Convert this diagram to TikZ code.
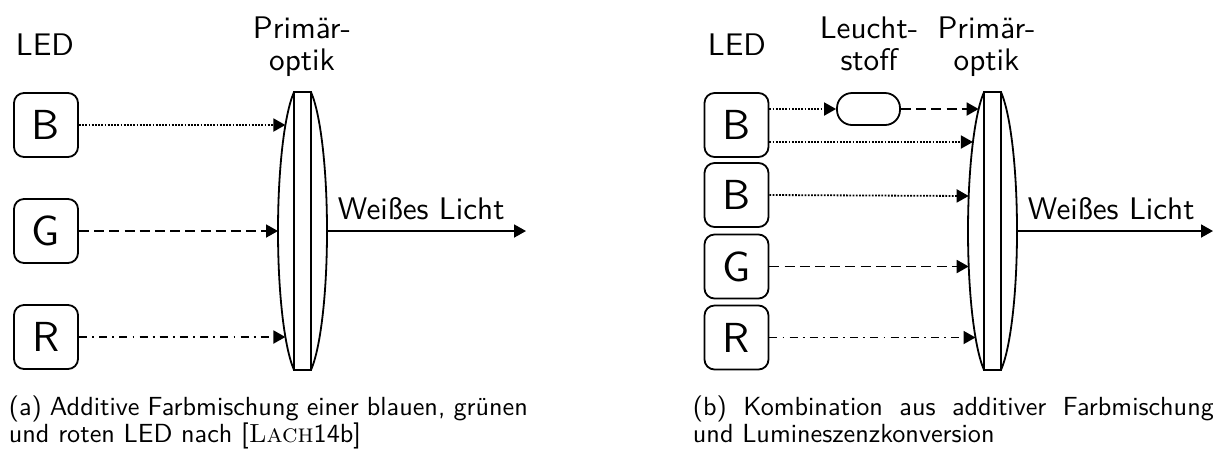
\documentclass[tikz,border=0pt]{standalone}
\usepackage{fontspec}
\setsansfont{lmsans10-regular.otf}
\usetikzlibrary{arrows.meta,calc}
% lens: ellipse clipped to the node box, with a narrow vertical strip in the middle
\newcommand\drawlens[1]{%
  \begin{scope}
    \clip ($(#1.north west)+(-6,0)$) rectangle ($(#1.south east)+(6,0)$);
    \draw (#1.center) ellipse [x radius=24.5, y radius=148];
  \end{scope}
  \draw ($(#1.north)+(-8.5,0)$) rectangle ($(#1.south)+(8.5,0)$);
}
% point on the left edge of a lens, at vertical offset #3 from its centre
\newcommand\lensin[3]{\coordinate (#2) at ($(#1.center)+({-24.5*sqrt(1-((#3)/148)^2)},#3)$);}
\begin{document}
\begin{tikzpicture}[x=0.5pt,y=-0.5pt,
  line width=0.9pt,
  ledbox/.style={draw, rounded corners=5pt, minimum width=32pt, minimum height=32pt,
    inner sep=0pt, font=\sffamily\fontsize{21}{24}\selectfont},
  phosbox/.style={draw, rounded corners=7.5pt, minimum width=31.5pt, minimum height=16pt, inner sep=0pt},
  lensarea/.style={minimum width=24.5pt, minimum height=138pt, inner sep=0pt},
  toplabel/.style={font=\sffamily\fontsize{15.6}{16}\selectfont, inner sep=0pt, align=center},
  ray/.style={-{Triangle[length=6pt,width=6.5pt]}},
  rayblue/.style={ray, dash pattern=on 0.9pt off 0.7pt},
  raydashed/.style={ray, dash pattern=on 5pt off 2.6pt},
  rayred/.style={ray, dash pattern=on 4pt off 2.6pt on 0.9pt off 2.6pt},
  caption/.style={font=\sffamily\fontsize{13.1}{13.5}\selectfont, inner sep=0pt, align=left, anchor=north west},
]
\useasboundingbox (0,0) rectangle (1213,452);

% ---------- (a) additive colour mixing ----------
\node[toplabel, anchor=base west] (ledA) at (15,55) {LED};
\node[toplabel, anchor=base] (optA) at (302,70) {Primär-\\optik};

\node[ledbox] (aB) at (46,125) {B};
\node[ledbox] (aG) at (46,231) {G};
\node[ledbox] (aR) at (46,337) {R};

\node[lensarea] (lensA) at (302.5,231) {};
\drawlens{lensA}
\lensin{lensA}{tAB}{-106}
\lensin{lensA}{tAG}{0}
\lensin{lensA}{tAR}{106}

\draw[rayblue] (aB.east) -- (tAB);
\draw[raydashed] (aG.east) -- (tAG);
\draw[rayred] (aR.east) -- (tAR);

\coordinate (outA) at (526,231);
\draw[ray] (lensA.east) -- (outA);
\node[toplabel, anchor=base west] (whiteA) at (337,219) {Weißes Licht};

\node[caption] (capA) at (8,395)
  {\makebox[259.5pt][s]{(a) Additive Farbmischung einer blauen, grünen}\\
   und roten LED nach [\textrm{\textsc{Lach}}14b]};

% ---------- (b) additive mixing plus luminescence conversion ----------
\node[toplabel, anchor=base west] (ledB) at (707,55) {LED};
\node[toplabel, anchor=base] (phosL) at (869,70) {Leucht-\\stoff};
\node[toplabel, anchor=base] (optB) at (986.5,70) {Primär-\\optik};

\node[ledbox] (bB1) at (736.5,125) {B};
\node[ledbox] (bB2) at (736.5,195) {B};
\node[ledbox] (bG) at (736.5,266.5) {G};
\node[ledbox] (bR) at (736.5,337.5) {R};

\node[phosbox] (phos) at (868.5,109) {};

\node[lensarea] (lensB) at (992.5,231) {};
\drawlens{lensB}
\lensin{lensB}{tBP}{-122}
\lensin{lensB}{tB1}{-89}
\lensin{lensB}{tB2}{-35}
\lensin{lensB}{tBG}{35.5}
\lensin{lensB}{tBR}{106.5}

\coordinate (bB1low) at ($(bB1.east)+(0,17)$);
\draw[rayblue] (bB1.east |- phos.west) -- (phos.west);
\draw[raydashed] (phos.east) -- (tBP);
\draw[rayblue] (bB1low) -- (tB1);
\draw[rayblue] (bB2.east) -- (tB2);
\draw[raydashed] (bG.east) -- (tBG);
\draw[rayred] (bR.east) -- (tBR);

\coordinate (outB) at (1213,231);
\draw[ray] (lensB.east) -- (outB);
\node[toplabel, anchor=base west] (whiteB) at (1027,219) {Weißes Licht};

\node[caption] (capB) at (692,395)
  {\makebox[260.5pt][s]{(b) Kombination aus additiver Farbmischung}\\
   und Lumineszenzkonversion};
\end{tikzpicture}
\end{document}
